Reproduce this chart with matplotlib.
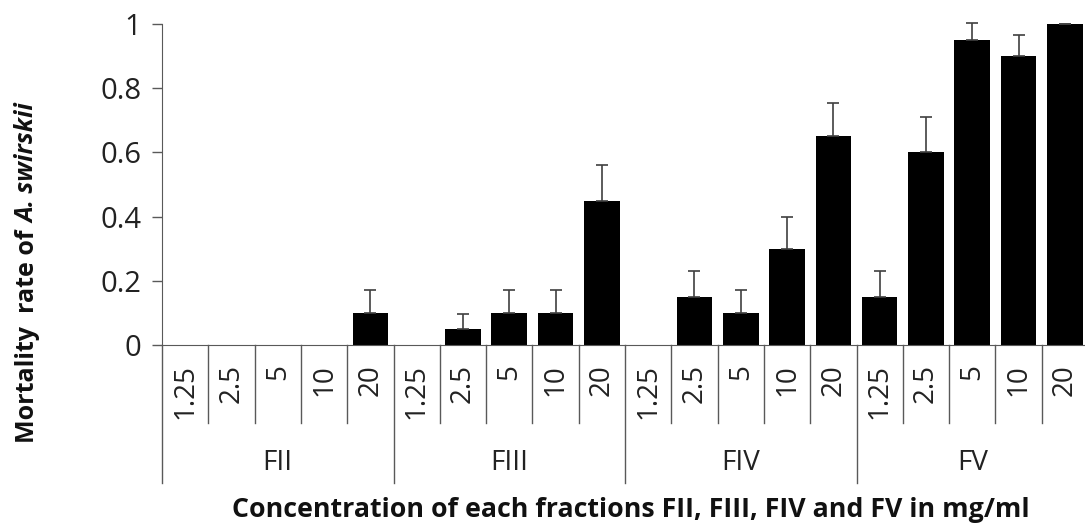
import matplotlib
matplotlib.use("Agg")
from matplotlib import pyplot as plt
from matplotlib import transforms
from matplotlib.lines import Line2D
import numpy as np

fractions = ["FII", "FIII", "FIV", "FV"]
concs = ["1.25", "2.5", "5", "10", "20"]

mortality = {
    "FII":  [0, 0, 0, 0, 0.10],
    "FIII": [0, 0.05, 0.10, 0.10, 0.45],
    "FIV":  [0, 0.15, 0.10, 0.30, 0.65],
    "FV":   [0.15, 0.60, 0.95, 0.90, 1.00],
}
errors = {
    "FII":  [0, 0, 0, 0, 0.07],
    "FIII": [0, 0.047, 0.07, 0.07, 0.112],
    "FIV":  [0, 0.08, 0.07, 0.10, 0.105],
    "FV":   [0.08, 0.11, 0.053, 0.066, 0.0],
}

plt.rcParams['font.family'] = ['Open Sans', 'DejaVu Sans']
W, H = 1085, 529
fig = plt.figure(figsize=(W / 100, H / 100), dpi=100)

# axes placed in pixels (left spine x=162, zero at y=345, 1.0 at y=24)
x0, x1, y0, y1 = 162, 1088, 345, 24
ax = fig.add_axes([x0 / W, (H - y0) / H, (x1 - x0) / W, (y0 - y1) / H])

vals = []
errs = []
for f in fractions:
    vals += mortality[f]
    errs += errors[f]
vals = np.array(vals)
errs = np.array(errs)
n = len(vals)
x = np.arange(n)

ax.bar(x, vals, width=0.77, color='black', linewidth=0, zorder=2)
# only bars that have a height get an error bar
m = vals > 0
ax.errorbar(x[m], vals[m], yerr=[np.zeros(m.sum()), errs[m]], fmt='none',
            ecolor='#404040', elinewidth=1.2, capsize=4, capthick=1.2,
            zorder=3, clip_on=False)

ax.set_xlim(-0.5, n - 0.5)
ax.set_ylim(0, 1)
ax.set_yticks([0, 0.2, 0.4, 0.6, 0.8, 1])
ax.set_yticklabels(["0", "0.2", "0.4", "0.6", "0.8", "1"], fontsize=21, color='#222222')
ax.tick_params(axis='y', length=7, width=1, color='#595959', pad=8)
ax.set_xticks([])
for s in ['top', 'right']:
    ax.spines[s].set_visible(False)
ax.spines['left'].set_color('#595959')
ax.spines['bottom'].set_color('#595959')

# multi-level category axis below the plot
tr = transforms.blended_transform_factory(ax.transData, fig.transFigure)
def fy(py):
    return (H - py) / H

for i in range(n + 1):
    xb = i - 0.5
    bottom = 483 if i % 5 == 0 else 423
    fig.add_artist(Line2D([xb, xb], [fy(345), fy(bottom)], transform=tr,
                          color='#595959', lw=1))

for i in range(n):
    fig.text(i, fy(364), concs[i % 5], transform=tr, rotation=90,
             ha='center', va='top', fontsize=20, color='#222222')

for k, f in enumerate(fractions):
    fig.text(k * 5 + 2, fy(463), f, transform=tr, ha='center', va='center',
             fontsize=20, color='#222222')

fig.text(631 / W, fy(510), "Concentration of each fractions FII, FIII, FIV and FV in mg/ml",
         ha='center', va='center', fontsize=19.3, fontweight='bold', color='#111111')

# y label: upright part, then italic species name stacked above it
t1 = fig.text(28 / W, fy(443), "Mortality  rate of ", rotation=90,
              ha='center', va='bottom', fontsize=18, fontweight='bold',
              color='#111111')
ax.annotate("A. swirskii", xy=(0.5, 1), xycoords=t1, rotation=90,
            ha='center', va='bottom', fontsize=18, fontweight='bold',
            fontstyle='italic', color='#111111', annotation_clip=False)

fig.savefig("out.png", dpi=100)
